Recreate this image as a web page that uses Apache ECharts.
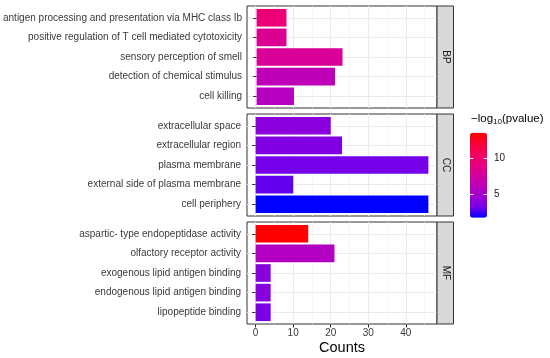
<!DOCTYPE html>
<html>
<head>
<meta charset="utf-8">
<script src="https://cdn.jsdelivr.net/npm/echarts@6/dist/echarts.min.js"></script>
<style>
html,body{margin:0;padding:0;background:#fff;}
#c{width:550px;height:358px;}
</style>
</head>
<body>
<div id="c"></div>
<script>
// ---------------- data ----------------
const facetNames = ['BP', 'CC', 'MF'];

const bpTerms = [
  'antigen processing and presentation via MHC class Ib',
  'positive regulation of T cell mediated cytotoxicity',
  'sensory perception of smell',
  'detection of chemical stimulus',
  'cell killing'
];
const bpCounts = [8, 8, 23, 21, 10];
const bpLogP = [9.55, 8.2, 7.95, 6.15, 5.75];

const ccTerms = [
  'extracellular space',
  'extracellular region',
  'plasma membrane',
  'external side of plasma membrane',
  'cell periphery'
];
const ccCounts = [20, 23, 46, 10, 46];
const ccLogP = [3.9, 3.5, 3.15, 2.9, 1.7];

const mfTerms = [
  'aspartic- type endopeptidase activity',
  'olfactory receptor activity',
  'exogenous lipid antigen binding',
  'endogenous lipid antigen binding',
  'lipopeptide binding'
];
const mfCounts = [14, 21, 4, 4, 4];
const mfLogP = [13.6, 5.55, 3.8, 3.8, 3.3];

const xTicks = [0, 10, 20, 30, 40];
const xMinorTicks = [5, 15, 25, 35, 45];
const legendTicks = [5, 10];
const legendMin = 1.7;
const legendMax = 13.6;
const xTitle = 'Counts';

// ---------------- layout ----------------
const FONT = '"Liberation Sans", Arial, Helvetica, sans-serif';
const TXT = '#3A3A3A';
const PL = 247, PW = 190, H = 102;
const tops = [6, 114, 222];
const band = H / 5.2;
const XMIN = -2.3, XMAX = 48.3;

const panels = [
  { name: facetNames[0], terms: bpTerms, counts: bpCounts, logp: bpLogP },
  { name: facetNames[1], terms: ccTerms, counts: ccCounts, logp: ccLogP },
  { name: facetNames[2], terms: mfTerms, counts: mfCounts, logp: mfLogP }
];

const grid = [], xAxis = [], yAxis = [], series = [], graphic = [];

panels.forEach((p, i) => {
  const T = tops[i];
  const last = i === panels.length - 1;
  grid.push({ left: PL, top: T, width: PW, height: H, show: true, backgroundColor: '#fff', borderColor: '#333', borderWidth: 1 });
  const gA = grid.length - 1;
  grid.push({ left: PL, top: T + 0.6 * band, width: PW, height: 4 * band });
  const gB = grid.length - 1;

  xAxis.push({
    gridIndex: gA, type: 'value', min: XMIN, max: XMAX, position: 'bottom',
    axisLine: { show: false },
    axisTick: { show: last, customValues: xTicks, length: 3.5, lineStyle: { color: '#333' } },
    axisLabel: { show: last, customValues: xTicks, fontSize: 10, color: TXT, fontFamily: FONT, margin: 4.5 },
    splitLine: { show: true, lineStyle: { color: '#EBEBEB', width: 1 } },
    name: last ? xTitle : '', nameLocation: 'middle', nameGap: 16,
    nameTextStyle: { fontSize: 14.5, color: '#000', fontFamily: FONT }
  });
  xAxis.push({
    gridIndex: gA, type: 'value', min: XMIN, max: XMAX, position: 'top',
    axisLine: { show: false },
    axisTick: { show: false, customValues: xMinorTicks },
    axisLabel: { show: false, customValues: xMinorTicks },
    splitLine: { show: true, lineStyle: { color: '#F2F2F2', width: 0.7 } }
  });
  xAxis.push({ gridIndex: gB, type: 'value', min: XMIN, max: XMAX, show: false });
  const xB = xAxis.length - 1;

  yAxis.push({ gridIndex: gA, type: 'value', show: false, min: 0, max: 1 });
  yAxis.push({
    gridIndex: gB, type: 'category', data: p.terms, inverse: true, boundaryGap: false,
    axisLine: { show: false },
    axisTick: { show: true, length: 3.5, lineStyle: { color: '#333' } },
    axisLabel: { interval: 0, fontSize: 10, color: TXT, fontFamily: FONT, margin: 6 },
    splitLine: { show: true, lineStyle: { color: '#EBEBEB', width: 1 } }
  });
  const yB = yAxis.length - 1;

  series.push({
    type: 'bar', xAxisIndex: xB, yAxisIndex: yB, barWidth: 0.9 * band, clip: false, silent: true,
    encode: { x: 0, y: 1 },
    data: p.terms.map((t, k) => [p.counts[k], t, p.logp[k]])
  });

  graphic.push({
    type: 'rect', z: 10,
    shape: { x: PL + PW, y: T, width: 16.5, height: H },
    style: { fill: '#D9D9D9', stroke: '#333', lineWidth: 1 }
  });
  graphic.push({
    type: 'text', z: 11, x: PL + PW + 8.5, y: T + H / 2, rotation: -Math.PI / 2,
    style: { text: p.name, align: 'center', verticalAlign: 'middle', fontSize: 10, fontFamily: FONT, fill: '#1A1A1A' }
  });
});

// colourbar axis (ticks + labels)
grid.push({ left: 470, top: 132.7, width: 17, height: 85 });
const gC = grid.length - 1;
xAxis.push({ gridIndex: gC, type: 'value', show: false });
yAxis.push({
  gridIndex: gC, type: 'value', min: legendMin, max: legendMax, position: 'left', z: 10,
  axisLine: { show: false },
  axisTick: { show: true, inside: true, customValues: legendTicks, length: 3.4, lineStyle: { color: '#fff', width: 1 } },
  axisLabel: { show: false, customValues: legendTicks },
  splitLine: { show: false }
});
yAxis.push({
  gridIndex: gC, type: 'value', min: legendMin, max: legendMax, position: 'right', z: 10,
  axisLine: { show: false },
  axisTick: { show: true, inside: true, customValues: legendTicks, length: 3.4, lineStyle: { color: '#fff', width: 1 } },
  axisLabel: { show: true, customValues: legendTicks, fontSize: 10, color: '#222', fontFamily: FONT, margin: 7 },
  splitLine: { show: false }
});

graphic.push({
  type: 'text', x: 471, y: 119,
  style: {
    text: '−log{s|10}(pvalue)', fontSize: 11.5, fontFamily: FONT, fill: '#000', verticalAlign: 'middle',
    rich: { s: { fontSize: 8, fontFamily: FONT, fill: '#000', padding: [5, 0, 0, 0], lineHeight: 8 } }
  }
});

const chart = echarts.init(document.getElementById('c'), null, { renderer: 'canvas' });
chart.setOption({
  animation: false,
  backgroundColor: '#fff',
  grid, xAxis, yAxis, series, graphic,
  visualMap: {
    type: 'continuous', min: legendMin, max: legendMax, dimension: 2, seriesIndex: [0, 1, 2],
    calculable: false, hoverLink: false, orient: 'vertical',
    itemWidth: 17, itemHeight: 85, left: 470, top: 132.7, padding: 0, text: null,
    inRange: { color: ['#0000FF', '#7800E8', '#A000D0', '#BE00B8', '#D4009C', '#E80080', '#F40060', '#FA0035', '#FF0000'] }
  }
});
</script>
</body>
</html>
